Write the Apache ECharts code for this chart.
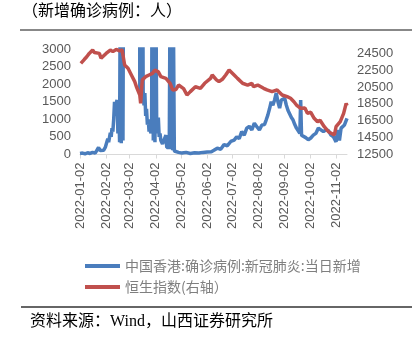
<!DOCTYPE html>
<html><head><meta charset="utf-8">
<script src="https://cdn.jsdelivr.net/npm/echarts@6/dist/echarts.min.js"></script>
<style>html,body{margin:0;padding:0;background:#fff}#c{width:420px;height:342px}</style>
</head><body><div id="c"></div>
<script>
// ---- data ----
const startDate = '2022-01-02';
const endDate = '2022-11-15';
const titleText = '（新增确诊病例：人）';
const sourceText = '资料来源：Wind，山西证券研究所';
const blueName = '中国香港:确诊病例:新冠肺炎:当日新增';
const redName = '恒生指数(右轴）';

const blueDates = [
 '2022-01-02','2022-01-05','2022-01-08','2022-01-11','2022-01-14','2022-01-17','2022-01-20','2022-01-22','2022-01-24','2022-01-26',
 '2022-01-28','2022-01-30','2022-02-01','2022-02-03','2022-02-04','2022-02-05','2022-02-06','2022-02-07','2022-02-08','2022-02-09',
 '2022-02-10','2022-02-11','2022-02-12','2022-02-13','2022-02-14','2022-02-15','2022-02-16','2022-02-17','2022-02-18','2022-02-19',
 '2022-02-20','2022-02-21','2022-02-22','2022-02-23','2022-02-26','2022-03-01','2022-03-04','2022-03-08','2022-03-11','2022-03-13',
 '2022-03-14','2022-03-15','2022-03-16','2022-03-17','2022-03-18','2022-03-19','2022-03-20','2022-03-21','2022-03-22','2022-03-23',
 '2022-03-24','2022-03-25','2022-03-26','2022-03-27','2022-03-28','2022-03-29','2022-03-30','2022-03-31','2022-04-01','2022-04-02',
 '2022-04-03','2022-04-04','2022-04-05','2022-04-06','2022-04-07','2022-04-08','2022-04-09','2022-04-10','2022-04-11','2022-04-12',
 '2022-04-14','2022-04-15','2022-04-16','2022-04-17','2022-04-18','2022-04-19','2022-04-20','2022-04-21','2022-04-22','2022-04-23',
 '2022-04-24','2022-04-26','2022-04-29','2022-05-03','2022-05-08','2022-05-13','2022-05-18','2022-05-23','2022-05-28','2022-06-02',
 '2022-06-07','2022-06-10','2022-06-14','2022-06-18','2022-06-22','2022-06-26','2022-06-30','2022-07-04','2022-07-07','2022-07-10',
 '2022-07-13','2022-07-16','2022-07-19','2022-07-22','2022-07-25','2022-07-28','2022-07-31','2022-08-03','2022-08-06','2022-08-09',
 '2022-08-11','2022-08-13','2022-08-15','2022-08-17','2022-08-19','2022-08-21','2022-08-23','2022-08-25','2022-08-27','2022-08-29',
 '2022-08-31','2022-09-02','2022-09-04','2022-09-06','2022-09-08','2022-09-10','2022-09-12','2022-09-14','2022-09-16','2022-09-18',
 '2022-09-20','2022-09-21','2022-09-22','2022-09-24','2022-09-27','2022-09-30','2022-10-03','2022-10-06','2022-10-09','2022-10-12',
 '2022-10-15','2022-10-18','2022-10-21','2022-10-24','2022-10-27','2022-10-30','2022-11-02','2022-11-04','2022-11-06','2022-11-08',
 '2022-11-10','2022-11-12','2022-11-15'
];
const blueValues = [
 30,40,20,50,30,60,40,120,200,110,
 150,120,200,250,450,350,400,620,500,750,
 650,1000,1500,1100,1450,1550,600,1500,350,6000,
 320,7000,400,8000,12000,30000,50000,25000,20000,15000,
 1800,12000,1700,9000,1750,1400,1750,1100,1300,850,
 1000,650,900,600,700,8000,400,6000,350,5000,
 1000,600,1050,500,600,400,450,300,350,250,
 550,200,250,150,200,5000,150,4000,120,3500,
 100,80,60,40,60,30,50,40,60,70,
 80,120,180,150,280,250,370,410,500,450,
 650,550,750,800,700,890,790,700,840,850,
 980,1120,1300,1500,1400,1550,1750,1500,1320,1550,
 1500,1600,1400,1250,1300,1050,980,850,750,700,
 600,1550,550,500,480,420,470,550,600,750,
 700,650,700,680,550,500,360,700,400,750,
 800,840,1030
];

const redDates = [
 '2022-01-03','2022-01-05','2022-01-07','2022-01-10','2022-01-13','2022-01-17','2022-01-19','2022-01-21','2022-01-25','2022-01-27',
 '2022-01-28','2022-02-02','2022-02-07','2022-02-10','2022-02-14','2022-02-18','2022-02-21','2022-02-22','2022-02-24','2022-02-28',
 '2022-03-04','2022-03-08','2022-03-10','2022-03-14','2022-03-15','2022-03-16','2022-03-17','2022-03-21','2022-03-25','2022-03-29',
 '2022-04-01','2022-04-05','2022-04-08','2022-04-14','2022-04-19','2022-04-22','2022-04-26','2022-04-29','2022-05-05','2022-05-09',
 '2022-05-13','2022-05-19','2022-05-25','2022-05-30','2022-06-06','2022-06-08','2022-06-13','2022-06-16','2022-06-20','2022-06-24',
 '2022-06-28','2022-07-04','2022-07-08','2022-07-14','2022-07-20','2022-07-25','2022-07-27','2022-08-01','2022-08-08','2022-08-12',
 '2022-08-18','2022-08-24','2022-08-30','2022-09-05','2022-09-09','2022-09-13','2022-09-16','2022-09-21','2022-09-26','2022-09-29',
 '2022-10-03','2022-10-07','2022-10-11','2022-10-14','2022-10-19','2022-10-24','2022-10-25','2022-10-31','2022-11-02','2022-11-07',
 '2022-11-09','2022-11-11','2022-11-14','2022-11-15'
];
const redValues = [
 23300,23490,23750,24080,24480,24875,24580,24790,24480,23900,
 24060,24480,24875,24690,24950,24790,24900,24290,23100,22710,
 21920,21130,20530,19550,18560,20100,21340,21720,21920,22110,
 22510,22290,21720,21520,20940,20150,20210,20730,20310,19550,
 19950,20530,20340,20940,21520,21920,21350,21130,21410,21920,
 22510,21920,21520,20940,20730,20940,20530,20730,20340,20150,
 19950,20150,19550,19350,19160,18750,18360,17970,18020,17380,
 17500,16790,16390,16560,15790,15200,15420,14810,15790,16390,
 16250,17380,18560,18300
];

const leftMin = 0, leftMax = 3000, leftStep = 500;
const rightMin = 12500, rightMax = 25000, rightStep = 2000;

// ---- categories (calendar days) ----
const categories = [];
for (let t = Date.parse(startDate + 'T00:00:00Z'); t <= Date.parse(endDate + 'T00:00:00Z'); t += 86400000) {
  categories.push(new Date(t).toISOString().slice(0, 10));
}
const monthTick = (i, v) => String(v).slice(8) === '02';
const plain = v => String(v);

const BLUE = '#4a7dbd', RED = '#c0504d';
const numFont = 'Liberation Sans, Noto Sans CJK SC';
const cjkFont = 'Noto Sans CJK SC';

const chart = echarts.init(document.getElementById('c'), null, {renderer: 'canvas'});
chart.setOption({
  animation: false,
  backgroundColor: '#fff',
  grid: {left: 80, right: 73, top: 49, bottom: 187.5, containLabel: false},
  legend: {
    orient: 'vertical', left: 80, top: 254, itemGap: 7,
    icon: 'rect', itemWidth: 35, itemHeight: 4,
    textStyle: {color: '#7f7f7f', fontSize: 14, fontFamily: cjkFont},
    data: [blueName, redName]
  },
  xAxis: {
    type: 'category', data: categories, boundaryGap: false,
    axisLine: {lineStyle: {color: '#d9d9d9', width: 1}},
    axisTick: {show: true, interval: monthTick, length: 4, lineStyle: {color: '#d9d9d9'}},
    axisLabel: {interval: monthTick, rotate: 90, color: '#595959', fontSize: 13, fontFamily: numFont, margin: 8},
    splitLine: {show: false}
  },
  yAxis: [
    {type: 'value', min: leftMin, max: leftMax, interval: leftStep,
     axisLine: {show: false}, axisTick: {show: false}, splitLine: {show: false},
     axisLabel: {color: '#595959', fontSize: 13, fontFamily: numFont, margin: 9, formatter: plain}},
    {type: 'value', position: 'right', min: rightMin, max: rightMax, interval: rightStep,
     axisLine: {show: false}, axisTick: {show: false}, splitLine: {show: false},
     axisLabel: {color: '#595959', fontSize: 13, fontFamily: numFont, margin: 10, showMaxLabel: false, formatter: plain}}
  ],
  series: [
    {name: blueName, type: 'line', yAxisIndex: 0, showSymbol: false, symbol: 'none',
     data: blueDates.map((d, i) => [d, blueValues[i]]),
     lineStyle: {color: BLUE, width: 3.5}, itemStyle: {color: BLUE}, z: 2},
    {name: redName, type: 'line', yAxisIndex: 1, showSymbol: false, symbol: 'none',
     data: redDates.map((d, i) => [d, redValues[i]]),
     lineStyle: {color: RED, width: 3.5}, itemStyle: {color: RED}, z: 3}
  ],
  graphic: [
    {type: 'text', left: 22, top: 2, style: {text: titleText, fill: '#000', font: '16px "Noto Sans CJK SC"'}},
    {type: 'line', shape: {x1: 20, y1: 30, x2: 412, y2: 30}, style: {stroke: '#888', lineWidth: 2}},
    {type: 'line', shape: {x1: 21, y1: 307, x2: 412, y2: 307}, style: {stroke: '#333', lineWidth: 1.5}},
    {type: 'text', left: 30, top: 314, style: {text: sourceText, fill: '#000', font: '16px "Liberation Serif", "Noto Sans CJK SC"'}}
  ]
});
</script></body></html>
